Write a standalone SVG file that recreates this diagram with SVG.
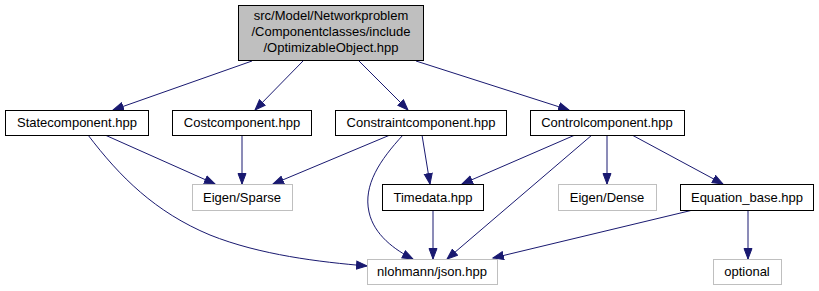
<svg xmlns="http://www.w3.org/2000/svg" width="819" height="291" viewBox="0 0 819 291">
  <style>
    .box { fill: #ffffff; stroke: #000000; stroke-width: 1; }
    .ext { fill: #ffffff; stroke: #bfbfbf; stroke-width: 1; }
    .root { fill: #bfbfbf; stroke: #000000; stroke-width: 1; }
    .lbl { font-family: "Liberation Sans", Arial, Helvetica, sans-serif; font-size: 13px; fill: #000000; text-anchor: middle; }
    .edge { fill: none; stroke: #191970; stroke-width: 1; marker-end: url(#arrow); }
  </style>
  <defs>
    <marker id="arrow" markerUnits="userSpaceOnUse" markerWidth="13" markerHeight="10" refX="11" refY="5" orient="auto">
      <path d="M0.5,1 L11,5 L0.5,9 z" fill="#191970" stroke="#191970" stroke-width="1"/>
    </marker>
  </defs>

  <g id="connectors">
    <path class="edge" d="M252,61 L113,110"/>
    <path class="edge" d="M303,61 L255,110"/>
    <path class="edge" d="M359,61 L408,110"/>
    <path class="edge" d="M416,61 L569,110"/>
    <path class="edge" d="M105,135 L215,184"/>
    <path class="edge" d="M88,135 C120,177 155,212 210,235 C260,255 320,262 367,266"/>
    <path class="edge" d="M242,135 L242,184"/>
    <path class="edge" d="M390,135 L273,184"/>
    <path class="edge" d="M403,135 C380,160 363,185 369,212 C374,235 395,250 413,259"/>
    <path class="edge" d="M422,135 L430,184"/>
    <path class="edge" d="M575,135 L462,184"/>
    <path class="edge" d="M592,135 L447,259"/>
    <path class="edge" d="M607,135 L607,184"/>
    <path class="edge" d="M632,135 L723,184"/>
    <path class="edge" d="M433,210 L433,259"/>
    <path class="edge" d="M693,210 L493,258"/>
    <path class="edge" d="M748,210 L748,259"/>
  </g>

  <g id="node-root">
    <rect class="root" x="238.5" y="5.5" width="185" height="55"/>
    <text class="lbl" x="331" y="20">src/Model/Networkproblem</text>
    <text class="lbl" x="331" y="36">/Componentclasses/include</text>
    <text class="lbl" x="331" y="52">/OptimizableObject.hpp</text>
  </g>
  <g id="node-statecomponent">
    <rect class="box" x="5.5" y="110.5" width="143" height="25"/>
    <text class="lbl" x="77" y="127">Statecomponent.hpp</text>
  </g>
  <g id="node-costcomponent">
    <rect class="box" x="172.5" y="110.5" width="139" height="25"/>
    <text class="lbl" x="242" y="127">Costcomponent.hpp</text>
  </g>
  <g id="node-constraintcomponent">
    <rect class="box" x="335.5" y="110.5" width="171" height="25"/>
    <text class="lbl" x="421" y="127">Constraintcomponent.hpp</text>
  </g>
  <g id="node-controlcomponent">
    <rect class="box" x="530.5" y="110.5" width="154" height="25"/>
    <text class="lbl" x="607" y="127">Controlcomponent.hpp</text>
  </g>
  <g id="node-eigen-sparse">
    <rect class="ext" x="192.5" y="184.5" width="100" height="26"/>
    <text class="lbl" x="242" y="202">Eigen/Sparse</text>
  </g>
  <g id="node-timedata">
    <rect class="box" x="382.5" y="184.5" width="101" height="26"/>
    <text class="lbl" x="433" y="202">Timedata.hpp</text>
  </g>
  <g id="node-eigen-dense">
    <rect class="ext" x="558.5" y="184.5" width="98" height="26"/>
    <text class="lbl" x="607" y="202">Eigen/Dense</text>
  </g>
  <g id="node-equation-base">
    <rect class="box" x="680.5" y="184.5" width="133" height="26"/>
    <text class="lbl" x="747" y="202">Equation_base.hpp</text>
  </g>
  <g id="node-json">
    <rect class="ext" x="367.5" y="259.5" width="130" height="25"/>
    <text class="lbl" x="432" y="276">nlohmann/json.hpp</text>
  </g>
  <g id="node-optional">
    <rect class="ext" x="713.5" y="259.5" width="68" height="25"/>
    <text class="lbl" x="747" y="276">optional</text>
  </g>
</svg>
